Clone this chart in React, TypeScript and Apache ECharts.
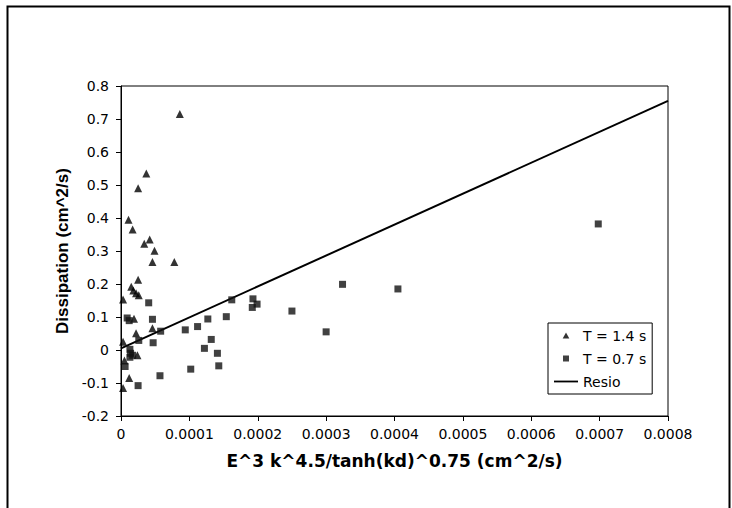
import React, { useEffect, useRef } from "react";
import * as echarts from "echarts";

// T = 1.4 s (triangles): [x, dissipation]
const seriesT14: [number, number][] = [
  [0.000086, 0.715], [0.000037, 0.535], [0.000025, 0.49], [0.000011, 0.395],
  [0.000017, 0.365], [0.000042, 0.335], [0.000034, 0.322], [0.000049, 0.301],
  [0.000046, 0.267], [0.000078, 0.267], [0.000025, 0.213], [0.000015, 0.192],
  [0.000018, 0.18], [0.000022, 0.172], [0.000026, 0.166], [0.000003, 0.153],
  [0.000019, 0.095], [0.000046, 0.066], [0.000022, 0.051], [0.000003, 0.025],
  [0.000024, -0.016], [0.000005, -0.032], [0.000012, -0.085], [0.000003, -0.115],
];

// T = 0.7 s (squares)
const seriesT07: [number, number][] = [
  [0.0000405, 0.143], [0.000009, 0.097], [0.000012, 0.089], [0.000046, 0.093],
  [0.000058, 0.057], [0.000026, 0.029], [0.000047, 0.022], [0.000013, 0.002],
  [0.000014, -0.01], [0.000017, -0.016], [0.000013, -0.022], [0.000006, -0.05],
  [0.000057, -0.078], [0.000025, -0.108], [0.000094, 0.061], [0.000112, 0.071],
  [0.000127, 0.094], [0.000132, 0.032], [0.000122, 0.005], [0.000141, -0.01],
  [0.000143, -0.048], [0.000102, -0.058], [0.000154, 0.101], [0.000162, 0.152],
  [0.000193, 0.155], [0.000199, 0.139], [0.000192, 0.129], [0.00025, 0.118],
  [0.0003, 0.055], [0.000324, 0.199], [0.000405, 0.185], [0.000698, 0.382],
];

// Resio relation line endpoints
const resioLine: [number, number][] = [
  [0, 0.005],
  [0.0008, 0.755],
];

const seriesNames = ["T = 1.4 s", "T = 0.7 s", "Resio"];
const xTitle = "E^3 k^4.5/tanh(kd)^0.75 (cm^2/s)";
const yTitle = "Dissipation (cm^2/s)";

export default function App() {
  const ref = useRef<HTMLDivElement>(null);

  useEffect(() => {
    if (!ref.current) return;
    const chart = echarts.init(ref.current, undefined, { renderer: "svg" });
    const tickFont = "DejaVu Sans";
    chart.setOption({
      animation: false,
      backgroundColor: "#fff",
      grid: {
        left: 121,
        right: 64,
        top: 86,
        bottom: 92,
        show: true,
        borderColor: "#000",
        borderWidth: 1,
        backgroundColor: "transparent",
      },
      xAxis: {
        type: "value",
        min: 0,
        max: 0.0008,
        interval: 0.0001,
        name: xTitle,
        nameLocation: "middle",
        nameGap: 36,
        nameTextStyle: {
          fontFamily: "DejaVu Sans",
          fontWeight: "bold",
          fontSize: 17,
          color: "#000",
        },
        axisLine: { show: true, onZero: false, lineStyle: { color: "#000", width: 1 } },
        axisTick: { show: true, inside: false, length: 5, lineStyle: { color: "#000" } },
        axisLabel: {
          margin: 11,
          fontFamily: tickFont,
          fontSize: 14,
          color: "#000",
          formatter: (v: number) => (v === 0 ? "0" : v.toFixed(4)),
        },
        splitLine: { show: false },
      },
      yAxis: {
        type: "value",
        min: -0.2,
        max: 0.8,
        interval: 0.1,
        name: yTitle,
        nameLocation: "middle",
        nameGap: 50,
        nameRotate: 90,
        nameTextStyle: {
          fontFamily: "Liberation Sans, Arial",
          fontWeight: "bold",
          fontSize: 17,
          color: "#000",
        },
        axisLine: { show: true, onZero: false, lineStyle: { color: "#000", width: 1 } },
        axisTick: { show: true, inside: false, length: 5, lineStyle: { color: "#000" } },
        axisLabel: {
          margin: 12,
          fontFamily: tickFont,
          fontSize: 14,
          color: "#000",
          formatter: (v: number) => {
            const r = Math.round(v * 10) / 10;
            return r === 0 ? "0" : String(r);
          },
        },
        splitLine: { show: false },
      },
      legend: {
        data: [
          { name: seriesNames[0], icon: "path://M5,0 L10,9 L0,9 Z" },
          { name: seriesNames[1], icon: "path://M0,0 L10,0 L10,10 L0,10 Z" },
          { name: seriesNames[2], icon: "path://M0,0 L24,0 L24,1.8 L0,1.8 Z" },
        ],
        orient: "vertical",
        left: 548,
        top: 323,
        padding: [5, 6, 5, 6],
        itemGap: 8,
        itemWidth: 24,
        itemHeight: 6,
        symbolKeepAspect: true,
        borderColor: "#000",
        borderWidth: 1,
        backgroundColor: "#fff",
        textStyle: {
          fontFamily: tickFont,
          fontSize: 14,
          color: "#000",
          lineHeight: 15,
        },
      },
      series: [
        {
          name: seriesNames[0],
          type: "scatter",
          symbol: "triangle",
          symbolSize: 8,
          itemStyle: { color: "#000" },
          data: seriesT14,
          z: 3,
        },
        {
          name: seriesNames[1],
          type: "scatter",
          symbol: "rect",
          symbolSize: 7,
          itemStyle: { color: "#111" },
          data: seriesT07,
          z: 3,
        },
        {
          name: seriesNames[2],
          type: "line",
          symbol: "none",
          showSymbol: false,
          lineStyle: { color: "#000", width: 2 },
          itemStyle: { color: "#000" },
          data: resioLine,
          z: 2,
        },
      ],
      graphic: [
        {
          type: "rect",
          left: 5,
          top: 4,
          shape: { width: 722, height: 520 },
          style: { fill: "none", stroke: "#000", lineWidth: 2 },
          silent: true,
          z: 0,
        },
      ],
    });
    return () => chart.dispose();
  }, []);

  return (
    <div
      ref={ref}
      style={{ position: "fixed", left: 0, top: 0, width: 732, height: 508 }}
    />
  );
}
